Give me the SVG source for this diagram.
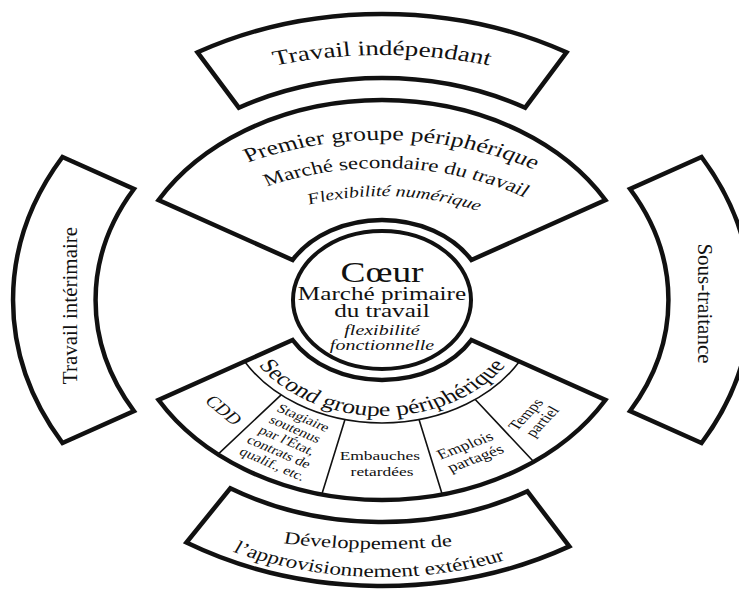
<svg xmlns="http://www.w3.org/2000/svg" width="739" height="589" viewBox="0 0 739 589">
<style>
.box{fill:#fff;stroke:#111;stroke-width:4.5;stroke-linejoin:miter}
.ring{fill:#fff;stroke:#111;stroke-width:4}
.thin{fill:none;stroke:#111;stroke-width:1.6}
text{font-family:"Liberation Serif","Times New Roman",serif;fill:#111}
.it{font-style:italic}
.mid{text-anchor:middle}
</style>
<defs>
<path id="tp-ind" d="M -335 90 A 335 335 0 0 1 335 90"/>
<path id="tp-p1" d="M -250 90 A 250 250 0 0 1 250 90"/>
<path id="tp-p2" d="M -222 90 A 222 222 0 0 1 222 90"/>
<path id="tp-p3" d="M -194 90 A 194 194 0 0 1 194 90"/>
<path id="tp-s" d="M -116 0 A 116 116 0 0 0 116 0"/>
<path id="tp-d1" d="M -500 -251 A 500 500 0 0 0 500 -251"/>
<path id="tp-d2" d="M -277 0 A 277 277 0 0 0 277 0"/>
</defs>
<rect width="739" height="589" fill="#fff"/>
<g id="connectors"></g>
<g transform="translate(382 300) scale(1.29 1)">
  <g id="node-travail-independant">
    <path class="box" vector-effect="non-scaling-stroke" d="M -143 -247.7 A 286 286 0 0 1 143 -247.7 L 111 -192.3 A 222 222 0 0 0 -111 -192.3 Z"/>
    <text font-size="21"><textPath href="#tp-ind" startOffset="50%" text-anchor="middle">Travail indépendant</textPath></text>
  </g>

  <g id="node-travail-interimaire-shape">
    <path class="box" vector-effect="non-scaling-stroke" d="M -247.7 143 A 286 286 0 0 1 -247.7 -143 L -192.3 -111 A 222 222 0 0 0 -192.3 111 Z"/>
  </g>

  <g id="node-sous-traitance-shape">
    <path class="box" vector-effect="non-scaling-stroke" d="M 247.7 -143 A 286 286 0 0 1 247.7 143 L 192.3 111 A 222 222 0 0 0 192.3 -111 Z"/>
  </g>

  <g id="node-developpement">
    <path class="box" vector-effect="non-scaling-stroke" d="M 145.2 246.4 A 286 286 0 0 1 -151.6 242.5 L -117.6 188.3 A 222 222 0 0 0 112.7 191.3 Z"/>
    <text font-size="17.5"><textPath href="#tp-d1" startOffset="49.3%" text-anchor="middle">Développement de</textPath></text>
    <text font-size="18"><textPath href="#tp-d2" startOffset="48.75%" text-anchor="middle">l’approvisionnement extérieur</textPath></text>
  </g>

  <g id="node-premier-groupe">
    <path class="box" vector-effect="non-scaling-stroke" d="M -173.2 -100 A 200 200 0 0 1 173.2 -100 L 69.3 -40 A 80 80 0 0 0 -69.3 -40 Z"/>
    <text font-size="20"><textPath href="#tp-p1" startOffset="51%" text-anchor="middle">Premier groupe périphérique</textPath></text>
    <text font-size="17.8"><textPath href="#tp-p2" startOffset="51.7%" text-anchor="middle">Marché secondaire du travail</textPath></text>
    <text class="it" font-size="15.5"><textPath href="#tp-p3" startOffset="51.6%" text-anchor="middle">Flexibilité numérique</textPath></text>
  </g>

  <g id="node-second-groupe">
    <path class="box" vector-effect="non-scaling-stroke" d="M -173.2 100 A 200 200 0 0 0 173.2 100 L 69.3 40 A 80 80 0 0 1 -69.3 40 Z"/>
    <path class="thin" vector-effect="non-scaling-stroke" d="M -106.5 61.5 A 123 123 0 0 0 106.5 61.5"/>
    <path class="thin" vector-effect="non-scaling-stroke" d="M -78.2 94.9 L -127.2 154.3 M -28.7 119.6 L -46.7 194.5 M 28.7 119.6 L 46.7 194.5 M 72.3 99.5 L 117.6 161.8"/>
    <text font-size="20"><textPath href="#tp-s" startOffset="50%" text-anchor="middle">Second groupe périphérique</textPath></text>
  </g>

  <g id="node-cdd">
    <text class="mid" font-size="16" transform="translate(-122.5 110) rotate(47)" y="5.5">CDD</text>
  </g>
  <g id="node-stagiaire">
    <text class="mid" font-size="12.5" transform="translate(-72 141) rotate(29)">
      <tspan x="0" y="-21.5">Stagiaire</tspan>
      <tspan x="0" y="-8.5">soutenus</tspan>
      <tspan x="0" y="4.5">par l'État,</tspan>
      <tspan x="0" y="17.5">contrats de</tspan>
      <tspan x="0" y="30.5">qualif., etc.</tspan>
    </text>
  </g>
  <g id="node-embauches">
    <text class="mid" font-size="13.5">
      <tspan x="0" y="160">Embauches</tspan>
      <tspan x="0" y="176">retardées</tspan>
    </text>
  </g>
  <g id="node-emplois">
    <text class="mid" font-size="14" transform="translate(69 151) rotate(-26)">
      <tspan x="0" y="-2.5">Emplois</tspan>
      <tspan x="0" y="12.5">partagés</tspan>
    </text>
  </g>
  <g id="node-temps">
    <text class="mid" font-size="13.5" transform="translate(118 117) rotate(-54)">
      <tspan x="0" y="-2.5">Temps</tspan>
      <tspan x="0" y="12">partiel</tspan>
    </text>
  </g>

  <g id="node-coeur">
    <circle class="ring" vector-effect="non-scaling-stroke" cx="0" cy="0" r="69"/>
    <text class="mid" font-size="29" x="0" y="-18">Cœur</text>
    <text class="mid" font-size="19.5" x="0" y="0">Marché primaire</text>
    <text class="mid" font-size="19.5" x="0" y="17">du travail</text>
    <text class="mid it" font-size="15.5" x="0" y="35">flexibilité</text>
    <text class="mid it" font-size="15.5" x="0" y="50">fonctionnelle</text>
  </g>
</g>
<g id="node-travail-interimaire">
  <text class="mid" font-size="21" transform="translate(77 305.5) rotate(-90)">Travail intérimaire</text>
</g>
<g id="node-sous-traitance">
  <text class="mid" font-size="21" transform="translate(698 303.5) rotate(90)">Sous-traitance</text>
</g>
</svg>
